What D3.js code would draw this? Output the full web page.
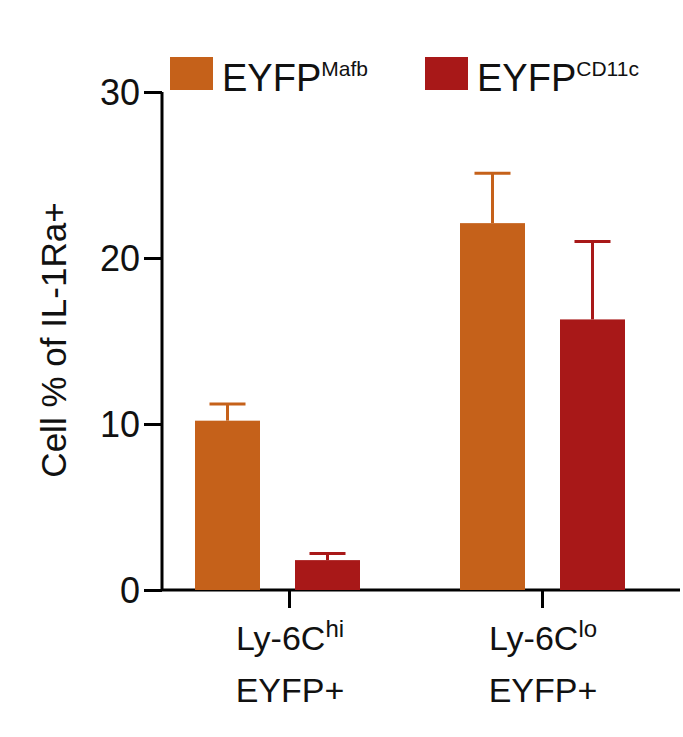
<!DOCTYPE html><html><head><script src="https://cdn.jsdelivr.net/npm/d3@7"></script>
<style>body{margin:0;background:#fff}text{font-family:Arial,"Liberation Sans",sans-serif;fill:#111}</style></head><body>
<svg id="c" width="683" height="737"></svg>
<script>
const groups=["hi","lo"];
const series=["Mafb","CD11c"];
const colors=["#c5611a","#a81818"];
const means=[[10.2,1.8],[22.1,16.3]];
const errs=[[1.0,0.4],[3.0,4.7]];
const yTicks=[0,10,20,30];
const svg=d3.select("#c");
const y=d3.scaleLinear().domain([0,30]).range([590,92]);
const x=d3.scaleBand().domain(groups).range([195,625]).paddingInner(100/265).paddingOuter(0);
const xs=d3.scaleBand().domain(series).range([0,x.bandwidth()]).paddingInner(0.35).paddingOuter(0);
const ya=svg.append("g").attr("transform","translate(162,0)").call(d3.axisLeft(y).tickValues(yTicks).tickSize(18).tickPadding(4));
ya.select(".domain").attr("stroke-width",3).attr("d","M0,590V92");
ya.selectAll(".tick line").attr("stroke-width",3);
ya.selectAll("text").attr("font-size",36).attr("dy","0.35em");
const xa=svg.append("g").attr("transform","translate(0,590)").call(d3.axisBottom(x).tickSize(18).tickFormat(""));
xa.select(".domain").attr("stroke-width",3).attr("d","M162,0H680");
xa.selectAll(".tick line").attr("stroke-width",3).attr("transform",(d)=>"translate("+(d==="lo"?0:12)+",0)");
groups.forEach((g,gi)=>{series.forEach((s,si)=>{
 const bx=x(g)+xs(s),w=xs.bandwidth(),cx=bx+w/2;
 svg.append("rect").attr("x",bx).attr("y",y(means[gi][si])).attr("width",w).attr("height",y(0)-y(means[gi][si])).attr("fill",colors[si]);
 const top=y(means[gi][si]+errs[gi][si]);
 svg.append("line").attr("x1",cx).attr("x2",cx).attr("y1",y(means[gi][si])).attr("y2",top).attr("stroke",colors[si]).attr("stroke-width",3);
 svg.append("line").attr("x1",cx-18).attr("x2",cx+18).attr("y1",top).attr("y2",top).attr("stroke",colors[si]).attr("stroke-width",3);
});});
const labSup=["hi","lo"];const lx=[290,543];
groups.forEach((g,i)=>{
 const t=svg.append("text").attr("x",lx[i]).attr("y",650).attr("text-anchor","middle").attr("font-size",34);
 t.append("tspan").text("Ly-6C");t.append("tspan").attr("dy",-13).attr("font-size",24).text(labSup[i]);
 svg.append("text").attr("x",lx[i]).attr("y",702).attr("text-anchor","middle").attr("font-size",34).text("EYFP+");
});
const legX=[170,425];
series.forEach((s,i)=>{
 svg.append("rect").attr("x",legX[i]).attr("y",57).attr("width",43).attr("height",33).attr("fill",colors[i]);
 const t=svg.append("text").attr("x",legX[i]+52).attr("y",91).attr("font-size",38);
 t.append("tspan").text("EYFP");t.append("tspan").attr("dy",-15).attr("font-size",21).text(s);
});
svg.append("text").attr("transform","translate(66,340) rotate(-90)").attr("text-anchor","middle").attr("font-size",35).text("Cell % of IL-1Ra+");
</script></body></html>
